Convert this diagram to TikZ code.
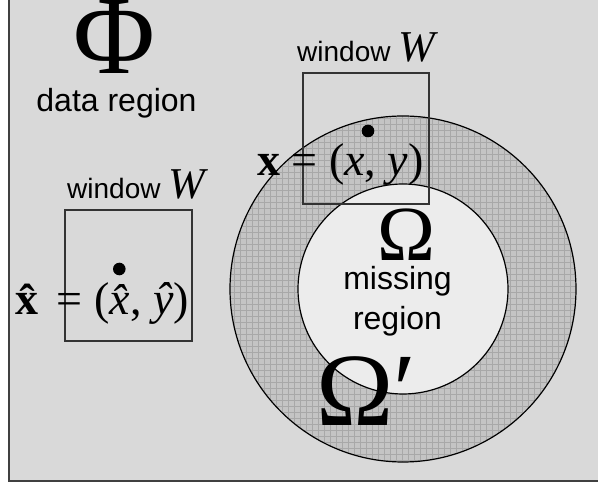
\documentclass[tikz,border=0pt]{standalone}
\usepackage{fontspec}
\setmainfont{Liberation Serif}
\newfontfamily\arial{Liberation Sans}
\usetikzlibrary{positioning}

\definecolor{bggray}{RGB}{217,217,217}
\definecolor{ringgray}{RGB}{196,196,196}
\definecolor{gridgray}{RGB}{168,168,168}
\definecolor{holegray}{RGB}{236,236,236}

\newcommand{\winW}{{\arial\fontsize{28}{34}\selectfont window }{\fontsize{44}{50}\selectfont\itshape W}}

\begin{document}
\begin{tikzpicture}[x=1pt,y=1pt]
\tikzset{
    win/.style={
              draw=black!80,
                   line width=1.3pt,
                   inner sep=0pt
    },
    dot/.style={circle, fill=black, inner sep=0pt, minimum size=12.6pt},
    label/.style={anchor=base west, inner sep=0pt},
    word/.style={anchor=base, inner sep=0pt, font=\arial\fontsize{32}{38}\selectfont},
    greek/.style={inner sep=0pt}
}
    \useasboundingbox (0,0) rectangle (598,484);
    \clip (0,0) rectangle (598,484);

    % data region
    \filldraw[fill=bggray, draw=black!75, line width=2.5pt] (9,3) rectangle (640,530);

    % ring round the missing region
    \fill[ringgray] (403,195) circle (173);
    \begin{scope}
        \clip (403,195) circle (173);
        \draw[gridgray, line width=0.6pt, step=6] (228,20) grid (580,370);
    \end{scope}
    \draw[line width=1.2pt] (403,195) circle (173);
    \filldraw[fill=holegray, line width=1.2pt] (403,195) circle (105);

    % windows
    \node (winA)[win, minimum width=126pt, minimum height=131pt] at (366,345.5) {};
    \node (winB)[win, minimum width=127pt, minimum height=131pt] at (128.5,208.5) {};
    \node (labA)[label] at (297,422.3) {\winW};
    \node (labB)[label] at (67,285) {\winW};

    % points
    \node (dotA)[dot] at (368,353) {};
    \node (dotB)[dot] at (119.3,215) {};
    \node (ptA)[label, font=\fontsize{46}{50}\selectfont] at (257,308) {\textbf{x} = (\textit{x}, \textit{y})};
    \node (ptB)[label, font=\fontsize{46}{50}\selectfont] at (15,169) {\textbf{\^x} = (\textit{\^x}, \textit{\^y})};

    % region names
    \node (phi)[greek, anchor=base, font=\fontsize{112}{112}\selectfont] at (114,410) {Φ};
    \node (data)[word] at (116.5,372.3) {data region};
    \node (omega)[greek, anchor=base, font=\fontsize{78}{80}\selectfont] at (406.5,223.3) {Ω};
    \node (miss)[word] at (397.5,194) {missing};
    \node (reg)[word] at (397.5,154) {region};
    \node (omegap)[greek, anchor=base west, font=\fontsize{104}{110}\selectfont] at (316,58) {Ω′};

\end{tikzpicture}
\end{document}
